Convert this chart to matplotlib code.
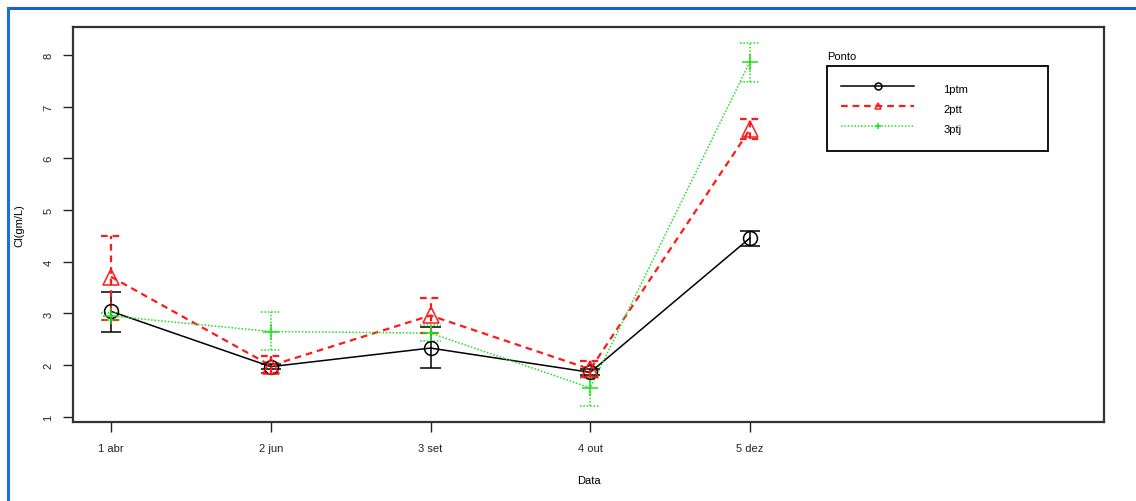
import matplotlib
matplotlib.use("Agg")
import numpy as np
from matplotlib import pyplot as plt
from matplotlib.lines import Line2D

plt.rcParams['font.family'] = ['Liberation Sans', 'DejaVu Sans']

datas = ['1 abr', '2 jun', '3 set', '4 out', '5 dez']
pontos = ['1ptm', '2ptt', '3ptj']

ptm_media = [3.04, 1.97, 2.33, 1.86, 4.46]
ptm_min = [2.65, 1.92, 1.94, 1.80, 4.31]
ptm_max = [3.42, 2.02, 2.73, 1.93, 4.60]

ptt_media = [3.71, 1.99, 2.96, 1.92, 6.56]
ptt_min = [2.87, 1.85, 2.62, 1.78, 6.37]
ptt_max = [4.50, 2.17, 3.30, 2.08, 6.77]

ptj_media = [2.95, 2.65, 2.62, 1.56, 7.87]
ptj_min = [2.87, 2.29, 2.46, 1.21, 7.48]
ptj_max = [3.00, 3.02, 2.77, 1.75, 8.23]

x = np.arange(1, len(datas) + 1)

fig = plt.figure(figsize=(11.36, 5.02), dpi=100)
ax = fig.add_axes([73/1136, 1 - 423/502, (1104 - 73)/1136, (423 - 28)/502])

series = [
    (ptm_media, ptm_min, ptm_max, 'black', '-', 'o', 1.1, 10),
    (ptt_media, ptt_min, ptt_max, '#ff1a1a', (0, (3, 2.2)), '^', 1.6, 11.5),
    (ptj_media, ptj_min, ptj_max, '#1ee01e', (0, (1, 1.2)), '+', 1.1, 12),
]

cap = 0.064
handles = []
for (m, lo, hi, cor, ls, mk, lw, ms), nome in zip(series, pontos):
    ax.plot(x, m, color=cor, linestyle=ls, linewidth=lw, zorder=3)
    ax.plot(x, m, linestyle='none', marker=mk, markersize=ms, color=cor,
            markerfacecolor='none', markeredgewidth=1.1, zorder=4)
    ax.vlines(x, lo, hi, colors=cor, linestyles=ls, linewidth=lw, zorder=3)
    ax.hlines(lo, x - cap, x + cap, colors=cor, linestyles=ls, linewidth=lw, zorder=3)
    ax.hlines(hi, x - cap, x + cap, colors=cor, linestyles=ls, linewidth=lw, zorder=3)
    handles.append(Line2D([], [], color=cor, linestyle=ls, linewidth=lw, marker=mk,
                          markersize=5, markerfacecolor='none', markeredgewidth=1.1))

ax.set_xlim(0.762, 7.216)
ax.set_ylim(0.90, 8.54)
ax.set_xticks(x)
ax.set_xticklabels(datas)
ax.set_yticks(range(1, 9))
ax.tick_params(axis='x', length=7, width=1, pad=8, labelsize=8, colors='#222222')
ax.tick_params(axis='y', length=7, width=1, pad=7, labelsize=8, colors='#222222')
for lab in ax.get_yticklabels():
    lab.set_rotation(90)
    lab.set_va('center')
for s in ax.spines.values():
    s.set_color('#333333')
    s.set_linewidth(1.6)

ax.set_xlabel('Data', fontsize=8, labelpad=16)
ax.set_ylabel('Cl(gm/L)', fontsize=8, labelpad=14)

leg = ax.legend(handles, pontos, loc='upper left',
                bbox_to_anchor=(0.7313, 0.6911, 0.2144, 0.2102), mode='expand',
                fontsize=8, handlelength=6.5, handletextpad=2.65, labelspacing=0.3,
                handleheight=1.9, borderpad=1.3, borderaxespad=0, fancybox=False,
                framealpha=1)
leg.get_frame().set_edgecolor('black')
leg.get_frame().set_linewidth(1.3)
ax.text(0.7313, 0.913, 'Ponto', transform=ax.transAxes, fontsize=8, ha='left', va='bottom')

# moldura azul
fig.add_artist(Line2D([8/1136, 1], [1 - 9/502, 1 - 9/502], color='#1a5fd0', linewidth=2.2))
fig.add_artist(Line2D([8/1136, 8/1136], [0, 1 - 9/502], color='#1a6fe0', linewidth=2.2))

fig.savefig('out.png', dpi=100)
